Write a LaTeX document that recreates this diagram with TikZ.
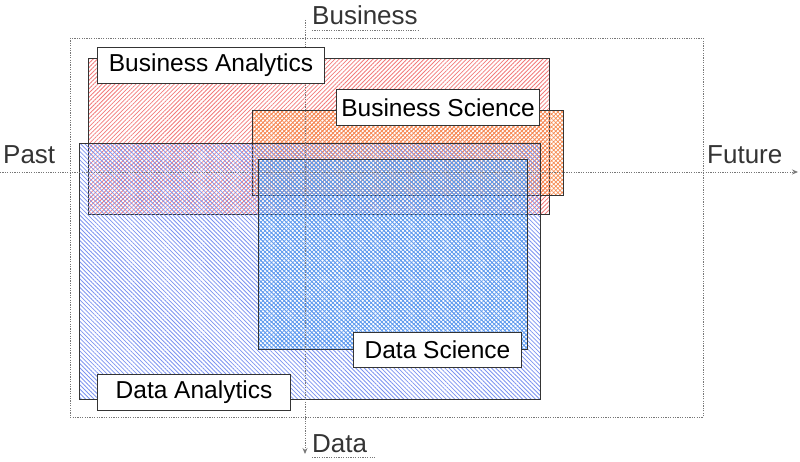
\documentclass[tikz,border=0pt]{standalone}
\usepackage{fontspec}
\setmainfont{Liberation Sans}
\usetikzlibrary{positioning,patterns.meta,arrows.meta}
\definecolor{baRed}{HTML}{F27A7A}
\definecolor{bsOrange}{HTML}{F68C52}
\definecolor{daBlue}{HTML}{7C93F0}
\definecolor{dsBlue}{HTML}{5C9CEE}
\definecolor{edgeGray}{HTML}{343434}
\definecolor{axisGray}{HTML}{777777}
\tikzset{area/.style={draw=edgeGray, line width=0.9pt, anchor=north west, inner sep=0pt}}
\tikzset{lines/.style args={#1/#2}{pattern={Lines[angle=#1,distance=3pt,line width=0.8pt]}, pattern color=#2}}
\tikzset{cross/.style={pattern={Hatch[angle=45,distance=3pt,line width=0.7pt]}, pattern color=#1}}
\tikzset{lbl/.style={draw=edgeGray, fill=white, line width=1pt, anchor=north west, inner sep=0pt, minimum height=36pt, font=\fontsize{24.5}{28}\selectfont}}
\tikzset{axlbl/.style={anchor=base west, inner sep=0pt, text=edgeGray, font=\fontsize{26}{28}\selectfont}}
\tikzset{axis/.style={draw=axisGray, line width=0.8pt, dash pattern=on 1.2pt off 1.2pt, -{Stealth[length=6pt,width=5pt]}}}
\tikzset{uline/.style={draw=axisGray, line width=0.8pt, dash pattern=on 1.2pt off 1.2pt}}

\begin{document}
\begin{tikzpicture}[x=1pt,y=-1pt]
  \useasboundingbox (0,0) rectangle (800,462);
  % areas
  \node[area, lines={45/baRed}, minimum width=461pt, minimum height=156pt] (ba) at (88,58) {};
  \node[area, cross=bsOrange, minimum width=311pt, minimum height=85pt] (bs) at (252,110) {};
  \node[area, lines={-45/daBlue}, minimum width=461pt, minimum height=256pt] (da) at (79,143) {};
  \node[area, cross=dsBlue, minimum width=269pt, minimum height=190pt] (ds) at (258,159) {};
  % axes
  \coordinate (west) at (0,172);
  \coordinate (east) at (798,172);
  \coordinate (north) at (305,20);
  \coordinate (south) at (305,454);
  \draw[axis] (west) -- (east);
  \draw[axis] (north) -- (south);
  \draw[uline] (70,38) rectangle (703,417);
  \node[axlbl] (past) at (3,164) {Past};
  \node[axlbl] (future) at (707,164) {Future};
  \node[axlbl] (biz) at (312,25) {Business};
  \node[axlbl] (data) at (312,452) {Data};
  \draw[uline] ([yshift=-5pt]biz.base west) -- ([yshift=-5pt]biz.base east);
  \draw[uline] ([yshift=-5pt]data.base west) -- ([yshift=-5pt,xshift=8pt]data.base east);
  % labels
  \node[lbl, minimum width=227pt] (balbl) at (97,47) {Business Analytics};
  \node[lbl, minimum width=203pt] (bslbl) at (336,89) {Business Science};
  \node[lbl, minimum width=193pt] (dalbl) at (97,374) {Data Analytics};
  \node[lbl, minimum width=168pt, minimum height=35pt] (dslbl) at (353,332) {Data Science};
\end{tikzpicture}
\end{document}
